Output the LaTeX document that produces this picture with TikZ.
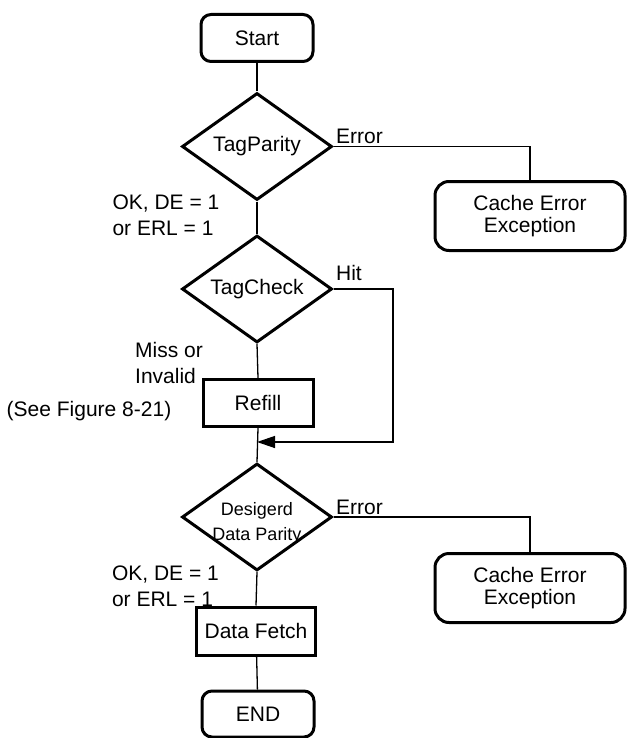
\documentclass[tikz,border=0pt]{standalone}
\usepackage{fontspec}
\setmainfont{Liberation Sans}
\usetikzlibrary{arrows.meta,positioning,shapes.geometric}

\begin{document}
\begin{tikzpicture}[
    x=1pt, y=-1pt,
    every node/.style={font=\fontsize{21}{22}\selectfont},
    term/.style={rectangle, rounded corners=10pt, draw, line width=3pt,
                 minimum width=112pt, minimum height=47pt, inner sep=0pt},
    proc/.style={rectangle, draw, line width=3pt, minimum height=47pt, inner sep=0pt},
    exc/.style={rectangle, rounded corners=14pt, draw, line width=3pt,
                minimum width=190pt, minimum height=69pt, align=center, inner sep=0pt},
    dec/.style={diamond, aspect=1.4, draw, line width=3pt, inner sep=0pt,
                minimum width=150pt, minimum height=107pt},
    ln/.style={line width=1.3pt},
    arr/.style={-{Triangle[length=18pt, width=12pt]}},
    lbl/.style={font=\fontsize{21}{26}\selectfont, inner sep=2pt, align=left},
  ]
  \useasboundingbox (0,0) rectangle (626,738);
  \node[term] (start) at (257, 38) {Start};
  \node[dec] (tp) at (257, 146.5) {TagParity};
  \node[exc] (ce1) at (530, 216) {Cache Error\\Exception};
  \node[dec] (tc) at (257, 289) {TagCheck};
  \node[proc, minimum width=110pt] (refill) at (258, 403) {Refill};
  \node[dec, label={[font=\fontsize{18}{25}\selectfont, align=center, yshift=-6pt]center:Desigerd\\Data Parity}]
    (dp) at (257, 517) {};
  \node[exc] (ce2) at (530, 588) {Cache Error\\Exception};
  \node[proc, minimum width=119pt, minimum height=48pt] (fetch) at (256, 631) {Data Fetch};
  \node[term, minimum height=46pt] (endn) at (258, 714) {END};
  \node[lbl, left=28pt of refill, yshift=-8pt] (see) {(See Figure 8-21)};
  \coordinate (hitc) at (393, 442);
  \coordinate (jn) at (257, 442);
  \draw[ln] (start) -- (tp);
  \draw[ln] (tp.east) -| node[lbl, anchor=south west, pos=0] {Error} (ce1.north);
  \draw[ln] (tp.south) -- node[lbl, left=35pt, yshift=2pt] {OK, DE = 1\\or ERL = 1} (tc.north);
  \draw[ln] (tc.south) -- node[lbl, left=52pt, yshift=-2pt] {Miss or\\Invalid} (refill.north);
  \draw[ln, arr] (tc.east) -| node[lbl, anchor=south west, pos=0, yshift=6pt] {Hit} (hitc) -- (jn);
  \draw[ln] (refill.south) -- (dp.north);
  \draw[ln] (dp.east) -| node[lbl, anchor=south west, pos=0] {Error} (ce2.north);
  \draw[ln] (dp.south) -- node[lbl, left=35pt, yshift=2pt] {OK, DE = 1\\or ERL = 1} (fetch.north);
  \draw[ln] (fetch) -- (endn);
\end{tikzpicture}
\end{document}
